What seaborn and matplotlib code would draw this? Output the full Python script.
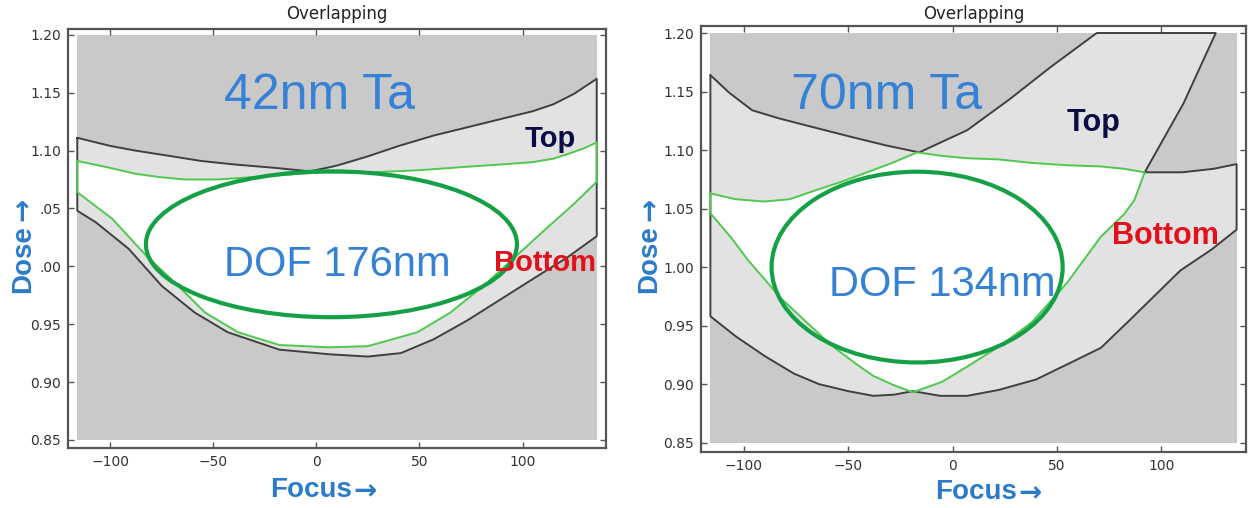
import matplotlib
matplotlib.use("Agg")
import matplotlib.pyplot as plt
from matplotlib.patches import Ellipse
import seaborn as sns

# ---------------- data ----------------
grid_focus = [-116, 136]
grid_dose = [0.85, 1.20]

xticks = [-100, -50, 0, 50, 100]
xtick_labels = ["\u2212100", "\u221250", "0", "50", "100"]
yticks = [0.85, 0.90, 0.95, 1.00, 1.05, 1.10, 1.15, 1.20]
# the left panel's "Dose" label hides the leading "1" of two tick labels
ytick_labels_left = ["0.85", "0.90", "0.95", ".00", ".05", "1.10", "1.15", "1.20"]
ytick_labels_right = ["0.85", "0.90", "0.95", "1.00", "1.05", "1.10", "1.15", "1.20"]

# ---- left panel: 42nm Ta ----
L_black_top_x = [-116, -100, -88, -70, -56, -40, -20, -3, 10, 25, 40, 57, 73, 89, 105, 115, 125, 136]
L_black_top_y = [1.111, 1.104, 1.100, 1.095, 1.091, 1.088, 1.085, 1.082, 1.087, 1.095, 1.104, 1.113,
                 1.120, 1.127, 1.134, 1.140, 1.149, 1.162]
L_black_bot_x = [-116, -107, -91, -75, -59, -43, -18, 6, 25, 41, 57, 73, 89, 105, 122, 136]
L_black_bot_y = [1.048, 1.038, 1.015, 0.983, 0.960, 0.943, 0.928, 0.924, 0.922, 0.925, 0.937, 0.953,
                 0.971, 0.989, 1.008, 1.026]
L_green_top_x = [-116, -100, -88, -76, -64, -48, -31, -15, 1, 25, 50, 73, 90, 105, 115, 122, 130, 136]
L_green_top_y = [1.091, 1.085, 1.080, 1.077, 1.075, 1.075, 1.077, 1.079, 1.081, 1.081, 1.083, 1.086,
                 1.088, 1.090, 1.093, 1.097, 1.102, 1.107]
L_green_bot_x = [-116, -99, -83, -67, -54, -38, -18, 6, 25, 49, 65, 81, 97, 113, 125, 136]
L_green_bot_y = [1.064, 1.041, 1.010, 0.983, 0.960, 0.943, 0.932, 0.930, 0.931, 0.943, 0.960, 0.983,
                 1.009, 1.035, 1.054, 1.073]
L_dof_center = [7.3, 1.019]
L_dof_size = [180, 0.126]

# ---- right panel: 70nm Ta ----
R_black_topleft_x = [-116, -107, -96, -83, -70, -59, -48, -32, -16]
R_black_topleft_y = [1.164, 1.149, 1.134, 1.127, 1.121, 1.116, 1.111, 1.104, 1.098]
R_black_rise_x = [-16, 7, 27, 47, 69]
R_black_rise_y = [1.098, 1.117, 1.143, 1.171, 1.200]
R_black_fall_x = [126, 110.6, 92]
R_black_fall_y = [1.200, 1.140, 1.081]
R_black_ridge_x = [92, 110, 125, 136]
R_black_ridge_y = [1.081, 1.081, 1.084, 1.088]
R_black_bot_x = [136, 124, 109, 97, 85, 71, 55, 40, 22, 7, -6, -19, -28, -38, -50, -64, -76, -90, -104, -116]
R_black_bot_y = [1.032, 1.015, 0.997, 0.976, 0.955, 0.931, 0.917, 0.904, 0.895, 0.890, 0.890, 0.894,
                 0.891, 0.890, 0.894, 0.900, 0.909, 0.924, 0.941, 0.958]
R_green_topleft_x = [-116, -104, -90, -78, -65, -53, -41, -29, -17]
R_green_topleft_y = [1.063, 1.058, 1.056, 1.058, 1.066, 1.073, 1.081, 1.089, 1.098]
R_green_topright_x = [-17, -5, 7, 22, 38, 55, 71, 82, 92]
R_green_topright_y = [1.098, 1.095, 1.093, 1.092, 1.089, 1.087, 1.086, 1.084, 1.081]
R_green_botleft_x = [-116, -106, -98, -82, -70, -58, -46, -38, -28, -19]
R_green_botleft_y = [1.046, 1.025, 1.006, 0.973, 0.953, 0.933, 0.917, 0.907, 0.899, 0.893]
R_green_botright_x = [-19, -5, 7, 23, 38, 55, 71, 82, 87, 92]
R_green_botright_y = [0.893, 0.902, 0.915, 0.933, 0.953, 0.987, 1.026, 1.045, 1.057, 1.081]
R_dof_center = [-17, 1.000]
R_dof_size = [139.4, 0.163]

# ---------------- style ----------------
sns.set_style("ticks")
plt.rcParams["font.family"] = ["DejaVu Sans"]

DARK = "#c9c9c9"
LIGHT = "#e2e2e2"
BLACK = "#404040"
THIN_GREEN = "#4fc84f"
THICK_GREEN = "#15a045"
BLUE = "#3481d6"
LABEL_BLUE = "#2b7bcc"
NAVY = "#0c0c45"
RED = "#e3101c"
SANS = ["Liberation Sans", "DejaVu Sans"]


def closed(xs, ys):
    return list(xs) + [xs[0]], list(ys) + [ys[0]]


def style_axes(ax, ylim, ylabels, title_pad):
    ax.set_xlim(-120.5, 140.5)
    ax.set_ylim(*ylim)
    ax.set_xticks(xticks)
    ax.set_xticklabels(xtick_labels)
    ax.set_yticks(yticks)
    ax.set_yticklabels(ylabels)
    ax.tick_params(direction="in", length=4, width=1, top=True, right=True,
                   color="#555555", labelcolor="#333333", labelsize=10, pad=5)
    for s in ax.spines.values():
        s.set_color("#555555")
        s.set_linewidth(1.6)
        s.set_visible(True)
    ax.set_facecolor("white")
    ax.set_xlabel("")
    ax.set_ylabel("")
    ax.set_title("Overlapping", fontsize=12, color="#222222", pad=title_pad)


def draw_panel(ax, ux, uy, ix, iy, dof_c, dof_s):
    ax.fill_between(grid_focus, grid_dose[0], grid_dose[1], color=DARK, lw=0, zorder=0.5)
    ax.fill(ux, uy, color=LIGHT, lw=0, zorder=0.6)
    ax.fill(ix, iy, color="white", lw=0, zorder=0.7)
    cx, cy = closed(ux, uy)
    sns.lineplot(x=cx, y=cy, sort=False, estimator=None, color=BLACK, lw=1.4, ax=ax, legend=False)
    gx, gy = closed(ix, iy)
    sns.lineplot(x=gx, y=gy, sort=False, estimator=None, color=THIN_GREEN, lw=1.4, ax=ax, legend=False)
    ax.add_patch(Ellipse(dof_c, dof_s[0], dof_s[1], fill=False, ec=THICK_GREEN, lw=3.0, zorder=3))


fig = plt.figure(figsize=(12.48, 5.08), dpi=100)
axL = fig.add_axes([68 / 1248, 60 / 508, 538 / 1248, 419 / 508])
axR = fig.add_axes([701 / 1248, 56 / 508, 545 / 1248, 426 / 508])

# left
Lux = L_black_top_x + L_black_bot_x[::-1]
Luy = L_black_top_y + L_black_bot_y[::-1]
Lix = L_green_top_x + L_green_bot_x[::-1]
Liy = L_green_top_y + L_green_bot_y[::-1]
draw_panel(axL, Lux, Luy, Lix, Liy, L_dof_center, L_dof_size)
style_axes(axL, (0.843, 1.205), ytick_labels_left, 7)

# right
Rux = R_black_topleft_x + R_black_rise_x[1:] + R_black_fall_x + R_black_ridge_x[1:] + R_black_bot_x
Ruy = R_black_topleft_y + R_black_rise_y[1:] + R_black_fall_y + R_black_ridge_y[1:] + R_black_bot_y
Rix = R_green_topleft_x + R_green_topright_x[1:] + R_green_botright_x[::-1][1:] + R_green_botleft_x[::-1][1:]
Riy = R_green_topleft_y + R_green_topright_y[1:] + R_green_botright_y[::-1][1:] + R_green_botleft_y[::-1][1:]
draw_panel(axR, Rux, Ruy, Rix, Riy, R_dof_center, R_dof_size)
style_axes(axR, (0.842, 1.206), ytick_labels_right, 5)

# annotations
axL.text(-45, 1.136, "42nm Ta", fontsize=36, color=BLUE, family=SANS, ha="left", va="baseline", zorder=4)
axL.text(-45, 0.9916, "DOF 176nm", fontsize=30, color=BLUE, family=SANS, ha="left", va="baseline", zorder=4)
axL.text(100.8, 1.103, "Top", fontsize=21, color=NAVY, family=SANS, weight="bold", ha="left", va="baseline", zorder=4)
axL.text(86, 0.996, "Bottom", fontsize=21, color=RED, family=SANS, weight="bold", ha="left", va="baseline", zorder=4)

axR.text(-77.6, 1.135, "70nm Ta", fontsize=36, color=BLUE, family=SANS, ha="left", va="baseline", zorder=4)
axR.text(-59, 0.9755, "DOF 134nm", fontsize=30, color=BLUE, family=SANS, ha="left", va="baseline", zorder=4)
axR.text(54.7, 1.1163, "Top", fontsize=22, color=NAVY, family=SANS, weight="bold", ha="left", va="baseline", zorder=4)
axR.text(76.3, 1.0196, "Bottom", fontsize=22, color=RED, family=SANS, weight="bold", ha="left", va="baseline", zorder=4)

label_pos = [(axL, -0.0836, 0.370, 0.3755, -0.100), (axR, -0.0945, 0.373, 0.4294, -0.094)]
for ax, dx, dy, fx, fy in label_pos:
    dose = ax.text(dx, dy, "Dose", rotation=90, transform=ax.transAxes, fontsize=20,
                   color=LABEL_BLUE, family=SANS, weight="bold", ha="center", va="bottom", zorder=5)
    ax.annotate("\u2192", xy=(0.5, 1.0), xycoords=dose, xytext=(0, 3), textcoords="offset points",
                rotation=90, fontsize=20, color=LABEL_BLUE, family="DejaVu Sans", weight="bold",
                ha="center", va="bottom", zorder=5)
    focus = ax.text(fx, fy, "Focus", transform=ax.transAxes, fontsize=20,
                    color=LABEL_BLUE, family=SANS, weight="bold", ha="left", va="center", zorder=5)
    ax.annotate("\u2192", xy=(1.0, 0.45), xycoords=focus, xytext=(1, 0), textcoords="offset points",
                fontsize=20, color=LABEL_BLUE, family="DejaVu Sans", weight="bold",
                ha="left", va="center", zorder=5)

fig.savefig("out.png", dpi=100)
